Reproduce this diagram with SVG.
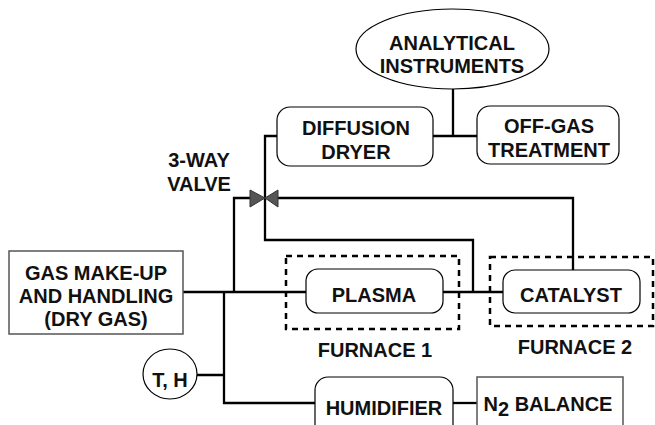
<svg xmlns="http://www.w3.org/2000/svg" width="655" height="425" viewBox="0 0 655 425">
<style>
text{font-family:"Liberation Sans",Arial,sans-serif;font-weight:bold;font-size:20px;fill:#111;text-anchor:middle}
.rb{fill:#fff;stroke:#000;stroke-width:1.2}
.sq{fill:#fff;stroke:#555;stroke-width:1.5}
.dash{fill:none;stroke:#000;stroke-width:2.5;stroke-dasharray:6,5}
.wire{fill:none;stroke:#000;stroke-width:2.3}
.valve{fill:#555;stroke:#333;stroke-width:1}
</style>
<rect width="655" height="425" fill="#fff"/>
<g id="connectors">
<path class="wire" d="M453 89V136M433 136H477"/>
<path class="wire" d="M277 136H265V240H473V292"/>
<path class="wire" d="M250 198H234V292"/>
<path class="wire" d="M278 198H573V270"/>
<path class="wire" d="M183 292H306M443 292H503"/>
<path class="wire" d="M197 375H224M224 292V403H315"/>
<path class="wire" d="M453 403H477"/>
</g>
<g id="analytical-instruments">
<ellipse cx="452.5" cy="49" rx="96.5" ry="40" class="rb"/>
<text x="452" y="50">ANALYTICAL</text>
<text x="452" y="73">INSTRUMENTS</text>
</g>
<g id="diffusion-dryer">
<rect x="277" y="107" width="156" height="59" rx="13" class="rb"/>
<text x="356" y="135">DIFFUSION</text>
<text x="356" y="159">DRYER</text>
</g>
<g id="off-gas-treatment">
<rect x="477" y="106" width="142" height="58" rx="13" class="rb"/>
<text x="549" y="133">OFF-GAS</text>
<text x="549" y="157">TREATMENT</text>
</g>
<g id="three-way-valve">
<polygon class="valve" points="250,190 265,198 250,207"/>
<polygon class="valve" points="278,190 265,198 278,207"/>
<text x="199" y="167">3-WAY</text>
<text x="199" y="191">VALVE</text>
</g>
<g id="gas-make-up">
<rect x="9" y="251" width="174" height="83" class="sq"/>
<text x="96" y="280">GAS MAKE-UP</text>
<text x="96" y="303">AND HANDLING</text>
<text x="96" y="326">(DRY GAS)</text>
</g>
<g id="furnace-1">
<rect x="286" y="256" width="173" height="73" class="dash"/>
<text x="375" y="357">FURNACE 1</text>
</g>
<g id="plasma">
<rect x="306" y="269" width="137" height="44" rx="12" class="rb"/>
<text x="374" y="302">PLASMA</text>
</g>
<g id="furnace-2">
<rect x="490" y="257" width="163" height="69" class="dash"/>
<text x="575" y="354">FURNACE 2</text>
</g>
<g id="catalyst">
<rect x="503" y="270" width="137" height="43" rx="12" class="rb"/>
<text x="571" y="302">CATALYST</text>
</g>
<g id="t-h">
<ellipse cx="170" cy="374" rx="27" ry="25" class="rb"/>
<text x="170" y="387">T, H</text>
</g>
<g id="humidifier">
<rect x="315" y="377" width="138" height="70" rx="13" class="rb"/>
<text x="384" y="415">HUMIDIFIER</text>
</g>
<g id="n2-balance">
<rect x="477" y="377" width="146" height="70" class="sq"/>
<text x="548" y="411">N<tspan dy="5">2</tspan><tspan dy="-5"> BALANCE</tspan></text>
</g>
</svg>
